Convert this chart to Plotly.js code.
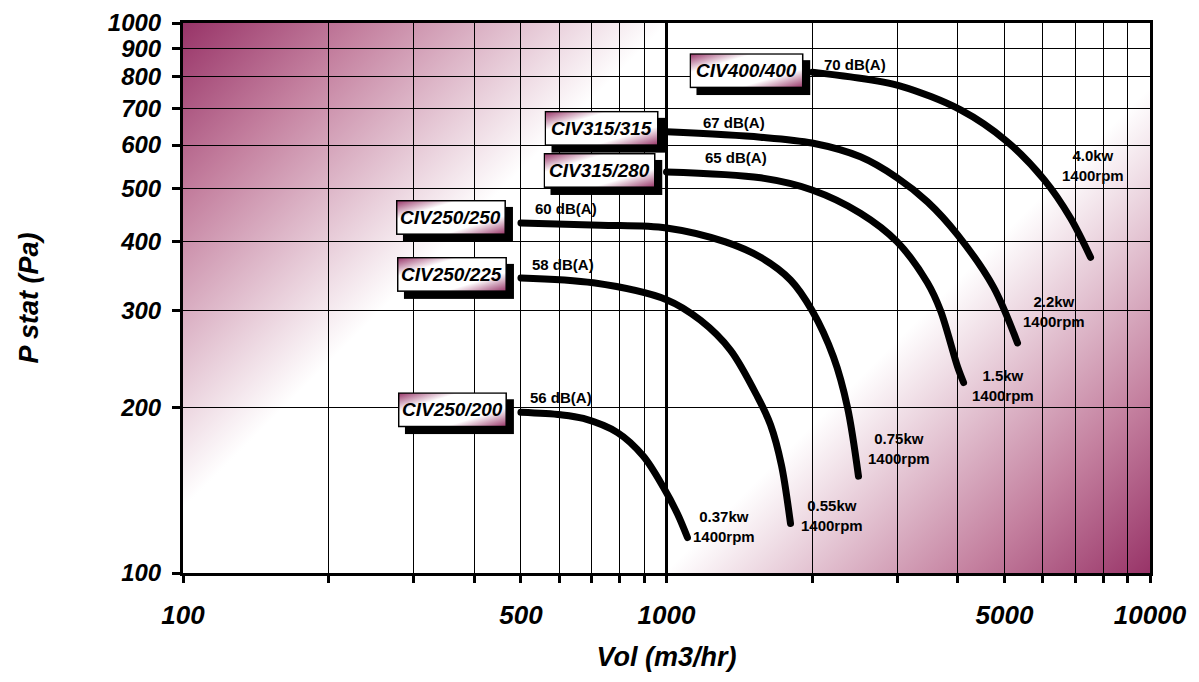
<!DOCTYPE html>
<html>
<head>
<meta charset="utf-8">
<script src="https://cdn.plot.ly/plotly-3.0.1.min.js"></script>
<style>html,body{margin:0;padding:0;background:#fff;}#chart{width:1199px;height:682px;}</style>
</head>
<body>
<div id="chart"></div>
<script>
// ---- data ----
const models = ['CIV250/200','CIV250/225','CIV250/250','CIV315/280','CIV315/315','CIV400/400'];
const noise  = ['56 dB(A)','58 dB(A)','60 dB(A)','65 dB(A)','67 dB(A)','70 dB(A)'];
const power  = ['0.37kw','0.55kw','0.75kw','1.5kw','2.2kw','4.0kw'];
const speed  = ['1400rpm','1400rpm','1400rpm','1400rpm','1400rpm','1400rpm'];

const flow200 = [500, 604, 673, 792, 896, 986, 1054, 1105];
const pres200 = [196, 194, 191, 180, 163, 143, 128, 116];
const flow225 = [500, 706, 1000, 1176, 1357, 1543, 1641, 1729, 1805];
const pres225 = [344, 337, 314, 288, 254, 209, 186, 157, 123];
const flow250 = [500, 730, 1000, 1324, 1565, 1805, 2000, 2215, 2368, 2495];
const pres250 = [433, 429, 424, 400, 375, 341, 300, 247, 200, 150];
const flow280 = [1000, 1565, 2000, 2518, 3000, 3465, 3687, 4000, 4115];
const pres280 = [536, 523, 497, 451, 400, 337, 300, 237, 222];
const flow315 = [1000, 1565, 2000, 2518, 3000, 3466, 4000, 4746, 5321];
const pres315 = [634, 620, 605, 571, 523, 473, 412, 331, 262];
const flow400 = [2004, 2402, 3048, 4057, 5049, 6051, 6847, 7534];
const pres400 = [814, 798, 768, 695, 610, 518, 442, 375];

const xGrid  = [100,200,300,400,500,600,700,800,900,1000,2000,3000,4000,5000,6000,7000,8000,9000,10000];
const xLabel = ['100','','','','500','','','','','1000','','','','5000','','','','','10000'];
const yGrid  = [100,200,300,400,500,600,700,800,900,1000];
const yLabel = ['100','200','300','400','500','600','700','800','900','1000'];

const flows = [flow200, flow225, flow250, flow280, flow315, flow400];
const press = [pres200, pres225, pres250, pres280, pres315, pres400];

// ---- layout / label styling (pixel offsets relative to curve ends) ----
const labelCfg = [
  {boxW:109, boxRight:-14, boxTop:-20, dbDx:7,  dbDy:-15, kwDx:37, kwDy:-11},
  {boxW:110, boxRight:-14, boxTop:-21, dbDx:9,  dbDy:-13, kwDx:41, kwDy:-8},
  {boxW:110, boxRight:-15, boxTop:-23, dbDx:12, dbDy:-14, kwDx:41, kwDy:-28},
  {boxW:112, boxRight:-11, boxTop:-19, dbDx:36, dbDy:-14, kwDx:39, kwDy:3},
  {boxW:114, boxRight:-8,  boxTop:-21, dbDx:34, dbDy:-9,  kwDx:36, kwDy:-31},
  {boxW:114, boxRight:-9,  boxTop:-19, dbDx:10, dbDy:-8,  kwDx:2,  kwDy:-92}
];
const BOX_H = 35, SHADOW = 7;
const M = {l:183, r:49, t:23, b:109};
const W = 1199, H = 682;
const PW = W - M.l - M.r, PH = H - M.t - M.b;
const FONT = 'Liberation Sans, Arial, Helvetica, sans-serif';
const PURPLE = '#983468';
const MID = '#c4809f';

const pxX = v => M.l + (Math.log10(v) - 2) / 2 * PW;
const pxY = v => M.t + PH - (Math.log10(v) - 2) * PH;

const svgUri = s => 'data:image/svg+xml;charset=utf-8,' + encodeURIComponent(s);

const S = (PW + PH) / 2;
const bgSvg = `<svg xmlns="http://www.w3.org/2000/svg" width="${PW}" height="${PH}" viewBox="0 0 ${PW} ${PH}" preserveAspectRatio="none">
<defs><linearGradient id="g" gradientUnits="userSpaceOnUse" x1="0" y1="0" x2="${S}" y2="${S}">
<stop offset="0" stop-color="${PURPLE}"/><stop offset="0.12" stop-color="${MID}"/><stop offset="0.32" stop-color="#ffffff"/>
<stop offset="0.68" stop-color="#ffffff"/><stop offset="0.88" stop-color="${MID}"/><stop offset="1" stop-color="${PURPLE}"/>
</linearGradient></defs><rect x="0" y="0" width="${PW}" height="${PH}" fill="url(#g)"/></svg>`;

function boxSvg(w, h) {
  return `<svg xmlns="http://www.w3.org/2000/svg" width="${w+SHADOW}" height="${h+SHADOW}" viewBox="0 0 ${w+SHADOW} ${h+SHADOW}" preserveAspectRatio="none">
<defs><linearGradient id="b" x1="0" y1="0" x2="1" y2="1">
<stop offset="0" stop-color="${PURPLE}"/><stop offset="0.28" stop-color="#ffffff"/><stop offset="0.72" stop-color="#ffffff"/><stop offset="1" stop-color="${PURPLE}"/>
</linearGradient></defs>
<rect x="${SHADOW}" y="${SHADOW}" width="${w}" height="${h}" fill="#000"/>
<rect x="0.75" y="0.75" width="${w-1.5}" height="${h-1.5}" fill="url(#b)" stroke="#000" stroke-width="1.5"/></svg>`;
}

const traces = flows.map((fx, i) => ({
  type: 'scatter', mode: 'lines', x: fx, y: press[i], name: models[i],
  line: {color: '#000', width: 7, shape: 'spline', smoothing: 0.9},
  hoverinfo: 'skip', showlegend: false
}));

const images = [{
  source: svgUri(bgSvg), xref: 'paper', yref: 'paper', x: 0, y: 1,
  sizex: 1, sizey: 1, xanchor: 'left', yanchor: 'top', sizing: 'stretch', layer: 'below'
}];
const annotations = [];

flows.forEach((fx, i) => {
  const c = labelCfg[i];
  const x0 = fx[0], y0 = press[i][0];
  const x1 = fx[fx.length-1], y1 = press[i][press[i].length-1];
  const sx = pxX(x0), sy = pxY(y0);
  const right = sx + c.boxRight, left = right - c.boxW, top = sy + c.boxTop;
  images.push({
    source: svgUri(boxSvg(c.boxW, BOX_H)), xref: 'paper', yref: 'paper',
    x: (left - M.l) / PW, y: (M.t + PH - top) / PH,
    sizex: (c.boxW + SHADOW) / PW, sizey: (BOX_H + SHADOW) / PH,
    xanchor: 'left', yanchor: 'top', sizing: 'stretch', layer: 'above'
  });
  annotations.push({
    xref: 'paper', yref: 'paper',
    x: (left + c.boxW / 2 - M.l) / PW, y: (M.t + PH - (top + BOX_H / 2)) / PH,
    text: models[i], showarrow: false, xanchor: 'center', yanchor: 'middle',
    font: {family: FONT, size: 19, color: '#000', weight: 'bold', style: 'italic'}
  });
  annotations.push({
    xref: 'x', yref: 'y', x: Math.log10(x0), y: Math.log10(y0),
    xshift: c.dbDx, yshift: -c.dbDy, xanchor: 'left', yanchor: 'middle',
    text: noise[i], showarrow: false,
    font: {family: FONT, size: 15, color: '#000', weight: 'bold'}
  });
  annotations.push({
    xref: 'x', yref: 'y', x: Math.log10(x1), y: Math.log10(y1),
    xshift: c.kwDx, yshift: -c.kwDy, xanchor: 'center', yanchor: 'middle',
    text: power[i] + '<br>' + speed[i], showarrow: false,
    font: {family: FONT, size: 15, color: '#000', weight: 'bold'}
  });
});

const axisCommon = {
  type: 'log', showgrid: true, gridcolor: '#000', gridwidth: 1, zeroline: false,
  showline: true, linecolor: '#000', linewidth: 3, mirror: true,
  ticks: 'outside', tickcolor: '#000', tickwidth: 3, tickmode: 'array',
  automargin: false, fixedrange: true
};

const layout = {
  width: W, height: H, margin: {l: M.l, r: M.r, t: M.t, b: M.b, pad: 0},
  paper_bgcolor: '#fff', plot_bgcolor: 'rgba(0,0,0,0)',
  hovermode: false, showlegend: false,
  xaxis: Object.assign({}, axisCommon, {
    range: [2, 4], tickvals: xGrid, ticktext: xLabel, ticklen: 7, ticklabelstandoff: 10,
    tickfont: {family: FONT, size: 26, color: '#000', weight: 'bold', style: 'italic'},
    title: {text: 'Vol (m3/hr)', standoff: 18,
      font: {family: FONT, size: 27, color: '#000', weight: 'bold', style: 'italic'}}
  }),
  yaxis: Object.assign({}, axisCommon, {
    range: [2, 3], tickvals: yGrid, ticktext: yLabel, ticklen: 8, ticklabelstandoff: 6,
    tickfont: {family: FONT, size: 24, color: '#000', weight: 'bold', style: 'italic'},
    title: {text: 'P stat (Pa)', standoff: 62,
      font: {family: FONT, size: 27, color: '#000', weight: 'bold', style: 'italic'}}
  }),
  shapes: [{
    type: 'line', xref: 'paper', yref: 'paper', x0: 0.5, x1: 0.5, y0: 0, y1: 1,
    line: {color: '#000', width: 3}, layer: 'below'
  }],
  images: images,
  annotations: annotations
};

Plotly.newPlot('chart', traces, layout, {displayModeBar: false, staticPlot: true}).then(() => {
  document.querySelectorAll('.scatterlayer .js-line').forEach(p => {
    p.style.strokeLinecap = 'round';
    p.style.strokeLinejoin = 'round';
  });
});
</script>
</body>
</html>
